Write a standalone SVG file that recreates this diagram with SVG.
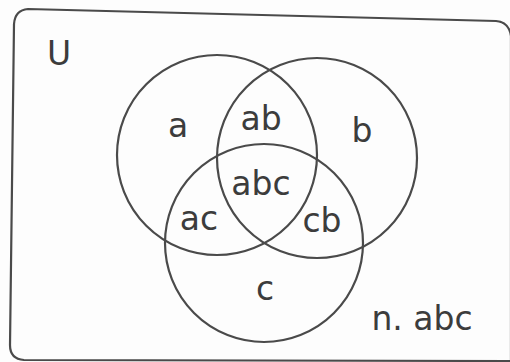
<svg xmlns="http://www.w3.org/2000/svg" width="510" height="362" viewBox="0 0 510 362">
<style>
.ln{fill:none;stroke:#4a4a4a;stroke-width:2.2}
.t{font-family:"DejaVu Sans",sans-serif;font-size:33px;fill:#3c3c3c;text-anchor:middle}
</style>
<rect width="510" height="362" fill="#fdfdfd"/>
<g id="universe">
<path class="ln" d="M14,24 Q15,10 28,9 L496,21 Q509,22 511,36 L511,361 L24,360 Q10,359 10,345 Z"/>
<text class="t" x="59" y="65" font-size="34">U</text>
</g>
<g id="circle-a"><circle class="ln" cx="217" cy="155" r="100"/></g>
<g id="circle-b"><circle class="ln" cx="317" cy="158" r="100"/></g>
<g id="circle-c"><circle class="ln" cx="264" cy="243" r="99"/></g>
<g id="labels">
<text class="t" x="178" y="137">a</text>
<text class="t" x="261" y="130">ab</text>
<text class="t" x="362" y="142">b</text>
<text class="t" x="261" y="195">abc</text>
<text class="t" x="199" y="230">ac</text>
<text class="t" x="322" y="232">cb</text>
<text class="t" x="265" y="300">c</text>
<text class="t" x="422" y="330" font-size="31">n. abc</text>
</g>
</svg>
